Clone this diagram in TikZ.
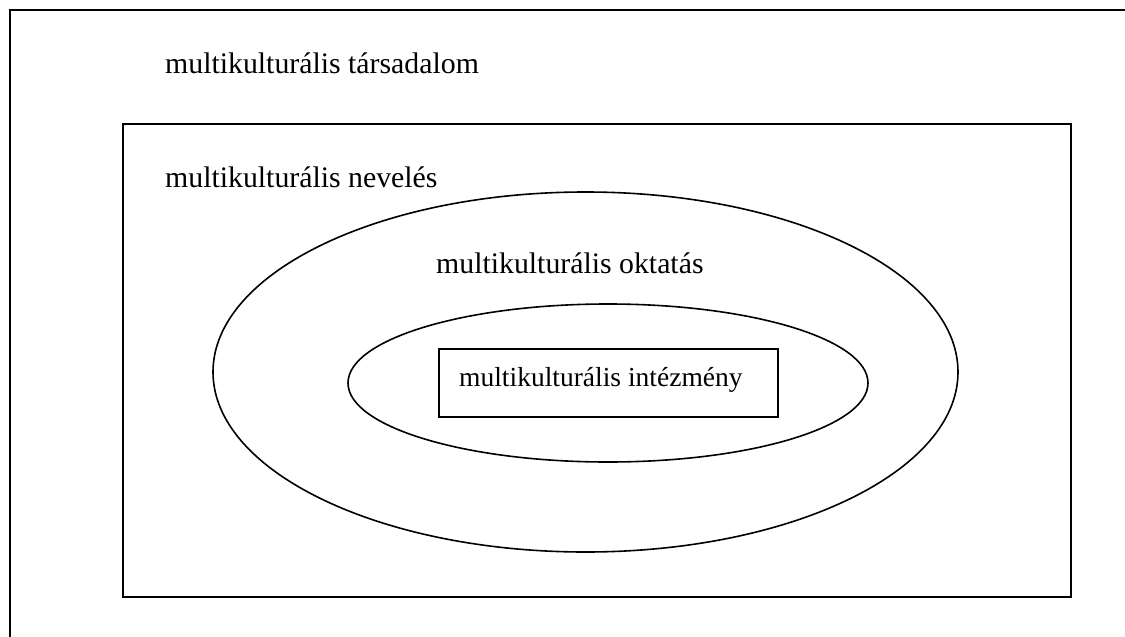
\documentclass[tikz,border=0pt]{standalone}
\usepackage{fontspec}
\setmainfont{Liberation Serif}
\usetikzlibrary{shapes.geometric}

\begin{document}
\begin{tikzpicture}[x=1pt, y=-1pt,
    level text/.style={anchor=base west, inner sep=0pt,
        font=\fontsize{29.8}{34}\selectfont},
    ring/.style={draw, ellipse, line width=1.6pt, inner sep=0pt},
    frame/.style={draw, rectangle, line width=1.6pt, inner sep=0pt},
  ]
  \useasboundingbox (0,0) rectangle (1125,637);
  \fill[white] (0,0) rectangle (1125,637);

  % outer frame, runs off the page on the right and bottom
  \draw[line width=2pt] (10,10) rectangle (1140,650);
  \node[frame, minimum width=948, minimum height=473] (nevelesbox) at (597,360.5) {};

  % the two rings
  \node[ring, minimum width=745, minimum height=360] (oktatasring) at (585.5,372) {};
  \node[ring, minimum width=520, minimum height=158] (intezmenyring) at (608,383) {};
  \node[frame, minimum width=339, minimum height=68] (intezmenybox) at (608.5,383) {};

  \node[level text] (tarsadalom) at (165,73) {multikulturális társadalom};
  \node[level text] (neveles) at (165,187) {multikulturális nevelés};
  \node[level text] (oktatas) at (436,273) {multikulturális oktatás};
  \node[level text, font=\fontsize{27.5}{32}\selectfont] (intezmeny) at (459,386)
    {multikulturális intézmény};
\end{tikzpicture}
\end{document}
